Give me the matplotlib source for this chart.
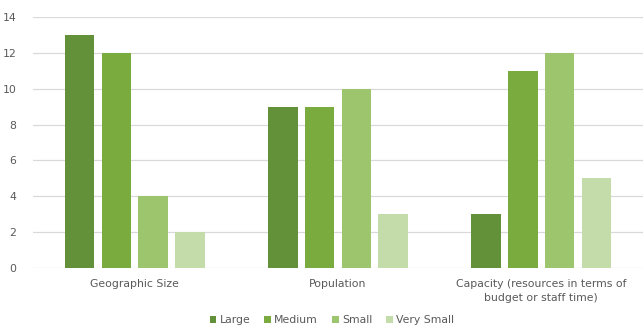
import numpy as np
import matplotlib
matplotlib.use("Agg")
import matplotlib.pyplot as plt

categories = ["Geographic Size", "Population",
              "Capacity (resources in terms of\nbudget or staff time)"]
series_names = ["Large", "Medium", "Small", "Very Small"]
large = [13, 9, 3]
medium = [12, 9, 11]
small = [4, 10, 12]
very_small = [2, 3, 5]

colors = ["#62913a", "#7aab3f", "#9dc56e", "#c3dcaa"]
text_color = "#595959"

fig = plt.figure(figsize=(6.43, 3.27), dpi=100)
ax = fig.add_axes([33 / 643, 1 - 268 / 327, 610 / 643, 251 / 327])

x = np.arange(len(categories))
width = 0.145
step = 0.181
for i, (name, vals) in enumerate(zip(series_names, [large, medium, small, very_small])):
    ax.bar(x + (i - 1.5) * step, vals, width, color=colors[i], label=name, zorder=2)

ax.set_xlim(-0.5, len(categories) - 0.5)
ax.set_ylim(0, 14)
ax.set_yticks(range(0, 15, 2))
ax.set_xticks(x)
ax.set_xticklabels(categories, fontsize=7.8, color=text_color, linespacing=1.45)
ax.tick_params(axis="y", labelsize=7.8, labelcolor=text_color, length=0, pad=12)
ax.tick_params(axis="x", length=0, pad=8)
ax.grid(axis="y", color="#d9d9d9", linewidth=0.9, zorder=0)
for s in ax.spines.values():
    s.set_visible(False)

ax.legend(loc="upper center", bbox_to_anchor=(0.49, -0.162), ncol=4, frameon=False,
          fontsize=7.8, labelcolor=text_color, handlelength=0.6, handleheight=0.6,
          handletextpad=0.3, columnspacing=1.3, borderaxespad=0.2)

fig.savefig("out.png", dpi=100)
